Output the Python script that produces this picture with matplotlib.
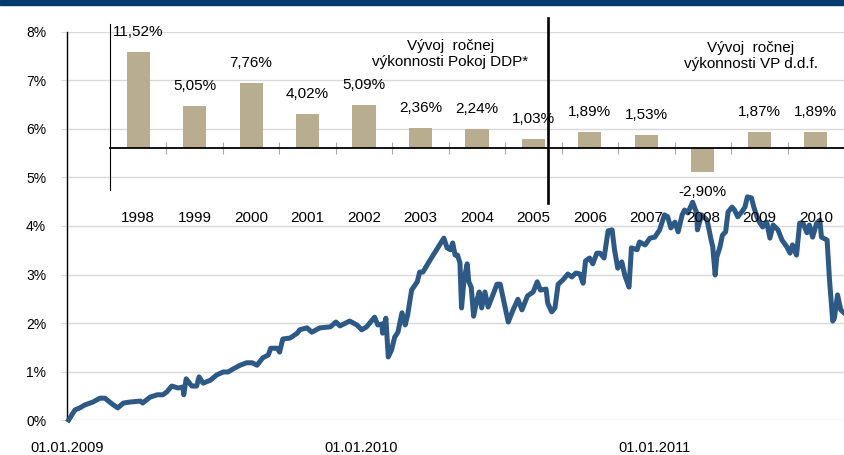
import matplotlib
matplotlib.use("Agg")
import matplotlib.pyplot as plt
import matplotlib.dates as mdates
import numpy as np

plt.rcParams['font.family'] = ['Liberation Sans', 'DejaVu Sans']

# cumulative performance, days since 01.01.2009 and value in %
days = [2, 10, 16, 22, 32, 41, 47, 56, 63, 70, 78, 91, 94, 103, 112, 119, 124, 130, 138, 144,
        145, 148, 155, 161, 164, 169, 178, 186, 194, 200, 206, 215, 223, 230, 236, 243, 250, 253, 261, 264,
        268, 277, 286, 289, 298, 304, 314, 327, 334, 339, 351, 360, 366, 372, 382, 386, 391, 392, 396, 399,
        403, 407, 411, 416, 420, 423, 428, 435, 438, 442, 451, 459, 468, 472, 476, 479, 482, 485, 488, 490,
        493, 497, 499, 502, 505, 509, 512, 515, 519, 523, 528, 534, 538, 543, 548, 554, 560, 565, 572, 579,
        584, 588, 595, 597, 602, 606, 610, 616, 622, 627, 632, 637, 641, 644, 649, 653, 658, 662, 667, 672,
        677, 680, 684, 689, 693, 698, 701, 708, 711, 718, 724, 730, 736, 742, 746, 750, 755, 759, 764, 767,
        771, 777, 782, 783, 788, 795, 800, 802, 805, 807, 811, 814, 818, 821, 826, 829, 833, 838, 842, 845,
        850, 853, 857, 860, 864, 869, 873, 877, 883, 888, 894, 898, 901, 906, 910, 914, 919, 922, 926, 931,
        935, 937, 944, 947, 951, 953, 957, 961, 965]
perf = [0.00, 0.21, 0.25, 0.31, 0.37, 0.45, 0.45, 0.33, 0.25, 0.35,
        0.37, 0.39, 0.35, 0.47, 0.52, 0.52, 0.58, 0.70, 0.66, 0.68,
        0.52, 0.85, 0.70, 0.70, 0.89, 0.76, 0.82, 0.93, 0.99, 0.99,
        1.05, 1.13, 1.18, 1.18, 1.13, 1.28, 1.34, 1.48, 1.48, 1.40,
        1.67, 1.69, 1.79, 1.86, 1.90, 1.81, 1.90, 1.92, 2.02, 1.94,
        2.04, 1.96, 1.86, 1.92, 2.12, 1.96, 1.98, 1.79, 2.10, 1.30,
        1.44, 1.71, 1.81, 2.21, 1.96, 2.16, 2.68, 2.85, 3.05, 3.05,
        3.30, 3.51, 3.75, 3.55, 3.51, 3.65, 3.40, 3.40, 3.24, 2.31,
        2.89, 3.22, 2.85, 2.74, 2.14, 2.47, 2.64, 2.31, 2.64, 2.33,
        2.54, 2.80, 2.80, 2.41, 2.02, 2.27, 2.49, 2.27, 2.56, 2.64,
        2.85, 2.68, 2.70, 2.41, 2.23, 2.31, 2.80, 2.89, 3.01, 2.95,
        3.03, 3.01, 2.82, 3.28, 3.34, 3.22, 3.44, 3.44, 3.34, 3.90,
        3.92, 3.51, 3.13, 3.26, 2.97, 2.74, 3.55, 3.51, 3.67, 3.61,
        3.75, 3.77, 3.92, 4.23, 4.19, 3.96, 4.08, 3.88, 4.23, 4.33,
        4.27, 4.49, 4.27, 3.92, 4.23, 4.12, 3.71, 3.57, 2.99, 3.36,
        3.57, 3.81, 3.88, 4.29, 4.39, 4.33, 4.19, 4.29, 4.39, 4.60,
        4.58, 4.39, 4.19, 4.08, 3.98, 4.08, 3.75, 4.02, 3.92, 3.71,
        3.57, 3.44, 3.61, 3.40, 4.06, 4.06, 3.86, 4.02, 3.77, 4.06,
        4.12, 3.77, 3.71, 2.89, 2.04, 2.10, 2.58, 2.27, 2.21]
date_ticks = ['2009-01-01', '2010-01-01', '2011-01-01']
last_day = 965

# yearly performance (inset)
years = ['1998', '1999', '2000', '2001', '2002', '2003', '2004', '2005', '2006', '2007', '2008', '2009', '2010']
yearly = [11.52, 5.05, 7.76, 4.02, 5.09, 2.36, 2.24, 1.03, 1.89, 1.53, -2.90, 1.87, 1.89]
title_left = 'Vývoj  ročnej\nvýkonnosti Pokoj DDP*'
title_right = 'Vývoj  ročnej\nvýkonnosti VP d.d.f.'

line_col = '#2d5986'
bar_col = '#b8ad8f'
grid_col = '#d9d9d9'

fig = plt.figure(figsize=(8.44, 4.55), dpi=100)
fig.patches.append(plt.Rectangle((0, 0.989), 1, 0.011, transform=fig.transFigure,
                                 color='#003a70', zorder=0))

# main chart
ax = fig.add_axes([0.0794, 0.0769, 0.9206, 0.8528])
start = np.datetime64('2009-01-01')
dates = start + np.array(days).astype('timedelta64[D]')
ax.plot(dates, perf, color=line_col, lw=3.6, solid_joinstyle='round', clip_on=False, zorder=3)
ax.set_xlim(start, start + np.timedelta64(last_day, 'D'))
ax.set_ylim(0, 8)
ax.set_yticks(range(0, 9))
ax.set_yticklabels([str(i) + '%' for i in range(0, 9)], fontsize=10)
ax.set_xticks([np.datetime64(d) for d in date_ticks])
ax.xaxis.set_major_formatter(mdates.DateFormatter('%d.%m.%Y'))
ax.tick_params(axis='x', length=0, pad=15, labelsize=10.5)
ax.tick_params(axis='y', length=4, color=grid_col, pad=11)
ax.grid(axis='y', color=grid_col, lw=1)
ax.set_axisbelow(True)
for s in ['top', 'right', 'bottom']:
    ax.spines[s].set_visible(False)
ax.spines['left'].set_linewidth(1)

# inset with yearly bars
ax2 = fig.add_axes([0.1303, 0.5824, 0.8697, 0.3648])
ax2.patch.set_alpha(0)
x = np.arange(len(years))
bars = ax2.bar(x, yearly, width=0.41, color=bar_col, zorder=2)
ax2.set_xlim(-0.5, len(years) - 0.5)
ax2.set_ylim(-5.1, 14.9)
ax2.set_yticks([])
ax2.spines['top'].set_visible(False)
ax2.spines['right'].set_visible(False)
ax2.spines['bottom'].set_position(('data', 0))
ax2.spines['bottom'].set_linewidth(1.3)
ax2.spines['bottom'].set_zorder(3)
ax2.set_xticks(x[:-1] + 0.5)
ax2.set_xticklabels([])
ax2.tick_params(axis='x', direction='inout', length=8, color='#aaaaaa')

for i in range(len(years)):
    off = 20 if yearly[i] >= 0 else -20
    ax2.annotate(('%.2f' % yearly[i]).replace('.', ',') + '%', (x[i], yearly[i]),
                 xytext=(0, off), textcoords='offset pixels', ha='center', va='center',
                 fontsize=11, zorder=4)
    ax2.text(x[i], -0.17, years[i], transform=ax2.get_xaxis_transform(),
             ha='center', va='center', fontsize=11)

ax2.text(5.53, 11.3, title_left, ha='center', va='center', fontsize=11)
ax2.text(10.85, 11.0, title_right, ha='center', va='center', fontsize=11)
ax2.axvline(7.25, ymin=-0.078, ymax=1.036, color='black', lw=1.9, clip_on=False)

plt.savefig('out.png', dpi=100)
